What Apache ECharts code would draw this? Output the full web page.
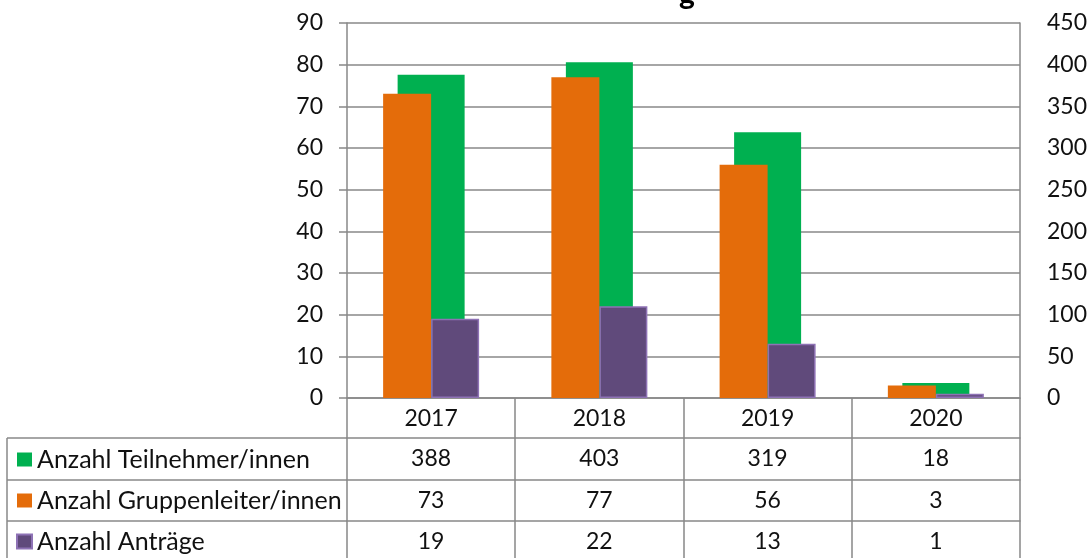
<!DOCTYPE html>
<html>
<head>
<meta charset="utf-8">
<script src="https://cdn.jsdelivr.net/npm/echarts@6/dist/echarts.min.js"></script>
<style>
  html, body { margin: 0; padding: 0; background: #fff; }
  #chart { width: 1090px; height: 558px; }
</style>
</head>
<body>
<div id="chart"></div>
<script>
const years = ['2017', '2018', '2019', '2020'];
const teilnehmer = [388, 403, 319, 18];
const gruppenleiter = [73, 77, 56, 3];
const antraege = [19, 22, 13, 1];

const seriesNames = ['Anzahl Teilnehmer/innen', 'Anzahl Gruppenleiter/innen', 'Anzahl Anträge'];
const tableRows = [teilnehmer, gruppenleiter, antraege];

const FONT = 'Lato';
const NUM_SIZE = 23;
const GRAY = '#888888';
const gridLeft = 347, gridRight = 1021, gridTop = 23, gridBottom = 398;
const rowLines = [438, 480, 521];

const chart = echarts.init(document.getElementById('chart'));

// one extra category axis per table row, labels taken from the row's array
const rowAxes = tableRows.map((row, i) => ({
  type: 'category',
  data: years,
  position: 'bottom',
  offset: rowLines[i] - gridBottom,
  axisLine: { show: true, lineStyle: { color: GRAY, width: 1.5 } },
  axisTick: { show: false },
  axisLabel: {
    interval: 0,
    margin: 9,
    fontFamily: FONT,
    fontSize: NUM_SIZE,
    color: '#111',
    formatter: (v, idx) => String(row[idx])
  }
}));

// lines of the legend column of the table
const tableGraphic = rowLines.map(y => ({
  type: 'line',
  shape: { x1: 7, y1: y, x2: gridLeft, y2: y },
  style: { stroke: GRAY, lineWidth: 1.5 }
}));
tableGraphic.push({
  type: 'line',
  shape: { x1: 7, y1: rowLines[0], x2: 7, y2: 560 },
  style: { stroke: GRAY, lineWidth: 1.5 }
});

const option = {
  animation: false,
  backgroundColor: '#fff',
  title: {
    text: 'g',
    left: 674,
    top: -26,
    textStyle: { fontFamily: FONT, fontSize: 30, fontWeight: 'bold', color: '#000' }
  },
  legend: {
    orient: 'vertical',
    left: 16,
    top: 447,
    padding: 0,
    itemGap: 16,
    itemWidth: 15,
    itemHeight: 14,
    icon: 'rect',
    data: seriesNames,
    textStyle: { fontFamily: FONT, fontSize: 25, color: '#111' }
  },
  graphic: tableGraphic,
  grid: {
    left: gridLeft,
    right: 1090 - gridRight,
    top: gridTop,
    bottom: 558 - gridBottom
  },
  xAxis: [
    {
      type: 'category',
      data: years,
      position: 'bottom',
      axisLine: { show: true, lineStyle: { color: GRAY, width: 1.5 } },
      axisTick: { show: true, interval: 0, length: 162, lineStyle: { color: GRAY, width: 1.5 } },
      axisLabel: { interval: 0, margin: 9, fontFamily: FONT, fontSize: NUM_SIZE, color: '#111' }
    },
    {
      type: 'category',
      data: years,
      show: false
    },
    ...rowAxes
  ],
  yAxis: [
    {
      type: 'value',
      min: 0,
      max: 90,
      interval: 10,
      position: 'left',
      axisLine: { show: true, lineStyle: { color: GRAY, width: 1.5 } },
      axisTick: { show: true, length: 8, lineStyle: { color: GRAY, width: 1.5 } },
      axisLabel: { margin: 24, fontFamily: FONT, fontSize: NUM_SIZE, color: '#111' },
      splitLine: { show: true, lineStyle: { color: GRAY, width: 1.5 } }
    },
    {
      type: 'value',
      min: 0,
      max: 450,
      interval: 50,
      position: 'right',
      axisLine: { show: true, lineStyle: { color: GRAY, width: 1.5 } },
      axisTick: { show: false },
      axisLabel: { margin: 27, fontFamily: FONT, fontSize: NUM_SIZE, color: '#111' },
      splitLine: { show: false }
    }
  ],
  series: [
    {
      name: seriesNames[0],
      type: 'bar',
      xAxisIndex: 1,
      yAxisIndex: 1,
      barWidth: 67,
      z: 1,
      itemStyle: { color: '#00B050' },
      data: teilnehmer
    },
    {
      name: seriesNames[1],
      type: 'bar',
      xAxisIndex: 0,
      yAxisIndex: 0,
      barWidth: 48,
      barGap: '0%',
      z: 2,
      itemStyle: { color: '#E46C0A' },
      data: gruppenleiter
    },
    {
      name: seriesNames[2],
      type: 'bar',
      xAxisIndex: 0,
      yAxisIndex: 0,
      barWidth: 48,
      barGap: '0%',
      z: 2,
      itemStyle: { color: '#604A7B', borderColor: '#8E72B5', borderWidth: 1.5 },
      data: antraege
    }
  ]
};

chart.setOption(option);
</script>
</body>
</html>
